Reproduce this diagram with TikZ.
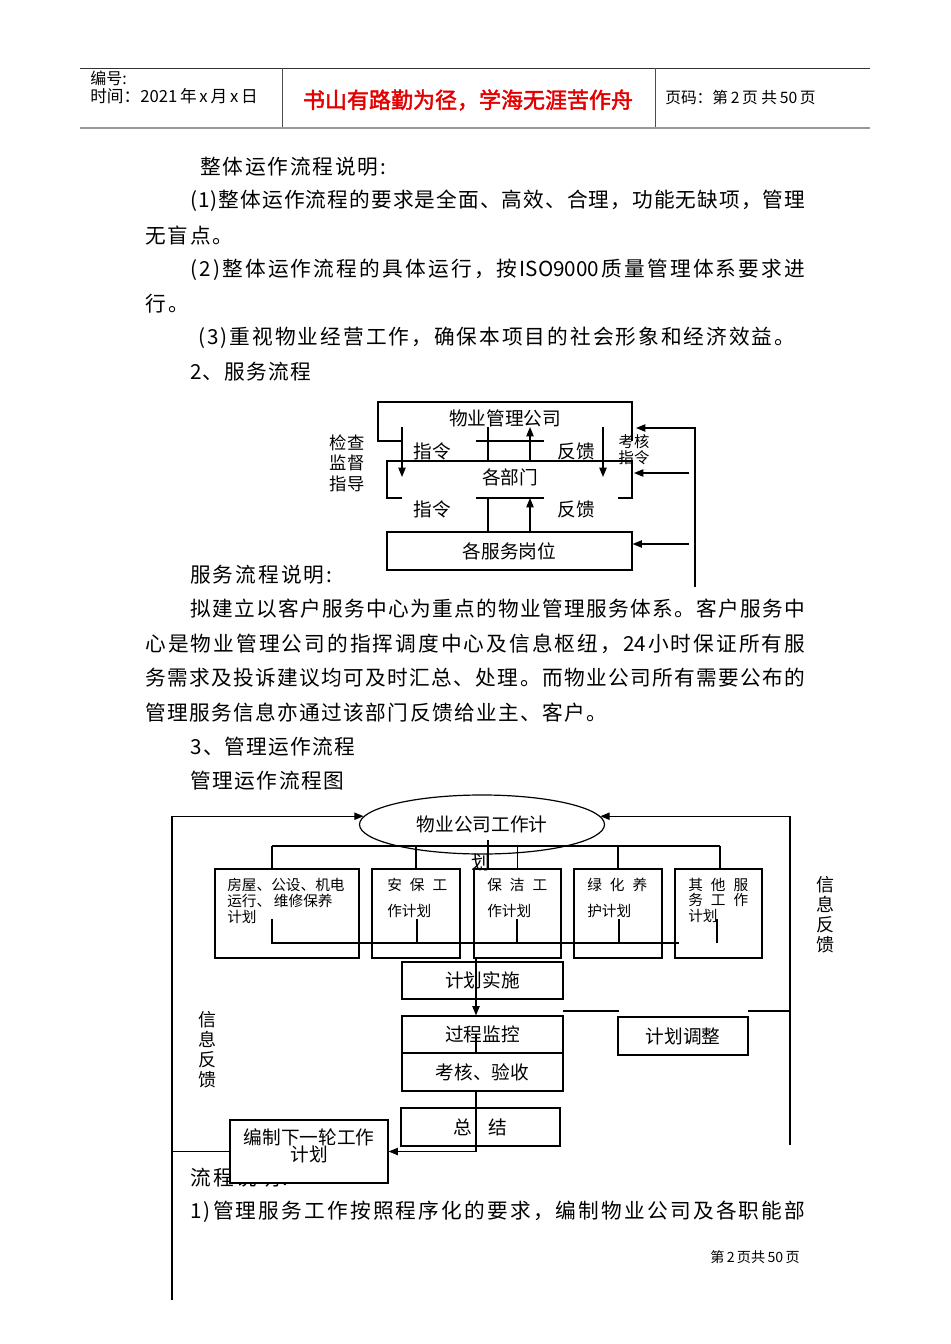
\documentclass[tikz,border=0pt]{standalone}
\usepackage{fontspec}
\setmainfont{Noto Sans CJK SC}
\newfontfamily\hdbold[FakeBold=2]{Noto Sans CJK SC}
\usetikzlibrary{arrows.meta,shapes.geometric}
\definecolor{hdred}{RGB}{228,0,0}
\newdimen\pxu \pxu=0.75pt
\newcommand\bodyf{\fontsize{15.5pt}{18pt}\selectfont}
\newcommand\dgf{\fontsize{14pt}{17pt}\selectfont}
\newcommand\smf{\fontsize{11pt}{12.5pt}\selectfont}
\newcommand\isoN{ISO9000}
\newcommand\tfN{24}
\makeatletter
\def\jl#1#2{\hbox to #1\pxu{\jl@a#2\relax}}
\def\jl@a#1{#1\jl@b}
\def\jl@b#1{\ifx\relax#1\else\hskip0pt plus1fil #1\expandafter\jl@b\fi}
\makeatother
\begin{document}
\begin{tikzpicture}[x=0.75pt,y=-0.75pt,
  ln/.style={line width=0.9pt},
  arr/.style={line width=0.9pt,-{Triangle[length=7pt,width=5.5pt]}},
  bt/.style={anchor=west,inner sep=0pt,font=\bodyf},
  dg/.style={inner sep=0pt,font=\dgf},
  sm/.style={inner sep=0pt,font=\smf,anchor=west},
  bx/.style 2 args={draw,line width=0.9pt,inner sep=0pt,minimum width=#1*0.75pt,minimum height=#2*0.75pt,font=\dgf}]
\useasboundingbox (0,0) rectangle (950,1344);
\fill[white] (0,0) rectangle (950,1344);

% ---------- header ----------
\draw[line width=0.6pt,black!80] (80,68) -- (870,68);
\draw[line width=2pt,black!40] (80,128) -- (870,128);
\draw[line width=0.6pt,black!70] (282,68) -- (282,127) (655,68) -- (655,127);
\node[inner sep=0pt,anchor=west,font=\fontsize{12pt}{13pt}\selectfont] (hno) at (90,78) {编号:};
\node[inner sep=0pt,anchor=west,font=\fontsize{12.5pt}{13pt}\selectfont] (htime) at (90,96) {时间：2021\,年\,x\,月\,x\,日};
\node[inner sep=0pt,text=hdred,font=\hdbold\fontsize{16.5pt}{18pt}\selectfont] (hmotto) at (468,100) {书山有路勤为径，学海无涯苦作舟};
\node[inner sep=0pt,anchor=west,font=\fontsize{11.8pt}{13pt}\selectfont] (hpage) at (665,98) {页码：第\,2\,页 共\,50\,页};

% ---------- body text ----------
\node[bt] (t1) at (200,167) {\jl{186}{整体运作流程说明:}};
\node[bt] (t2) at (190,201) {\jl{615}{(1)整体运作流程的要求是全面、高效、合理，功能无缺项，管理}};
\node[bt] (t3) at (145,236) {\jl{88}{无盲点。}};
\node[bt] (t4) at (190,270) {\jl{615}{(2)整体运作流程的具体运行，按\isoN 质量管理体系要求进}};
\node[bt] (t5) at (145,304) {\jl{44}{行。}};
\node[bt] (t6) at (198,338) {\jl{597}{(3)重视物业经营工作，确保本项目的社会形象和经济效益。}};
\node[bt] (t7) at (190,372) {\jl{121}{2、服务流程}};
\node[bt] (t8) at (190,575) {\jl{142}{服务流程说明:}};
\node[bt] (t9) at (190,609) {\jl{615}{拟建立以客户服务中心为重点的物业管理服务体系。客户服务中}};
\node[bt] (t10) at (145,644) {\jl{660}{心是物业管理公司的指挥调度中心及信息枢纽，\tfN 小时保证所有服}};
\node[bt] (t11) at (145,678) {\jl{660}{务需求及投诉建议均可及时汇总、处理。而物业公司所有需要公布的}};
\node[bt] (t12) at (145,713) {\jl{462}{管理服务信息亦通过该部门反馈给业主、客户。}};
\node[bt] (t13) at (190,747) {\jl{165}{3、管理运作流程}};
\node[bt] (t14) at (190,781) {\jl{154}{管理运作流程图}};
\node[bt] (t15) at (190,1178) {\jl{98}{流程说明:}};
\node[bt] (t16) at (190,1212) {\jl{615}{1)管理服务工作按照程序化的要求，编制物业公司及各职能部}};
\node[inner sep=0pt,anchor=west,font=\fontsize{10.6pt}{12pt}\selectfont] (foot) at (710,1257) {第\,2\,页共\,50\,页};

% ---------- service flow ----------
\node[dg] (gs) at (505,418) {物业管理公司};
\draw[ln] (402,441) -- (378,441) -- (378,402) -- (632,402) -- (632,441);
\draw[ln] (476,441) -- (544,441);
\node[dg] (bm) at (510,477) {各部门};
\draw[ln] (402,498) -- (387,498) -- (387,461) -- (632,461) -- (632,498) -- (618,498);
\draw[ln] (476,498) -- (544,498);
\node[bx={245}{38}] (gw) at (509.5,551) {各服务岗位};
\node[dg] (z1) at (432,451) {指令};
\node[dg] (f1) at (576,451) {反馈};
\node[dg] (z2) at (432,509) {指令};
\node[dg] (f2) at (576,509) {反馈};
\node[inner sep=0pt,align=center,font=\fontsize{13pt}{15.4pt}\selectfont] (jc) at (347,463) {检查\\监督\\指导};
\node[inner sep=0pt,align=center,font=\fontsize{11.5pt}{12pt}\selectfont] (kh2) at (634,450) {考核\\指令};
\coordinate (s1) at (402,427); \coordinate (s1e) at (402,477);
\coordinate (s2) at (603,427); \coordinate (s2e) at (603,477);
\coordinate (s3) at (488,427); \coordinate (s3e) at (488,461);
\coordinate (s4) at (530,461); \coordinate (s4e) at (530,427);
\coordinate (s5) at (488,498);
\coordinate (s6) at (530,532); \coordinate (s6e) at (530,498);
\draw[arr] (s1) -- (s1e);
\draw[arr] (s2) -- (s2e);
\draw[ln] (s3) -- (s3e);
\draw[arr] (s4) -- (s4e);
\draw[ln] (s5) -- (gw.north -| s5);
\draw[arr] (s6) -- (s6e);
\coordinate (rv) at (695,587); \coordinate (rt) at (636,428);
\draw[arr] (rv) |- (rt);
\coordinate (ra) at (689,473); \coordinate (rae) at (634,473);
\draw[arr] (ra) -- (rae);
\coordinate (rc) at (689,544);
\draw[arr] (rc) -- (gw.east |- rc);

% ---------- management flow ----------
\node[ellipse,draw,line width=0.9pt,minimum width=245*0.75pt,minimum height=59*0.75pt,inner sep=0pt,font=\dgf] (ell) at (482,824.5) {物业公司工作计};
\node[dg] (hua) at (481,862) {划};
\node[bx={144}{89}] (b1) at (287,913.5) {};
\node[bx={88}{89}] (b2) at (416,913.5) {};
\node[bx={87}{89}] (b3) at (517.5,913.5) {};
\node[bx={88}{89}] (b4) at (618,913.5) {};
\node[bx={87}{89}] (b5) at (718.5,913.5) {};
\node[sm] (b1a) at (227,885) {房屋、公设、机电};
\node[sm] (b1b) at (227,901) {运行、\hspace{2pt}维修保养};
\node[sm] (b1c) at (227,917) {计划};
\node[sm] (b2a) at (387,885) {安\hspace{6pt}保\hspace{6pt}工};
\node[sm] (b2b) at (387,911) {作计划};
\node[sm] (b3a) at (487,885) {保\hspace{6pt}洁\hspace{6pt}工};
\node[sm] (b3b) at (487,911) {作计划};
\node[sm] (b4a) at (587,885) {绿\hspace{6pt}化\hspace{6pt}养};
\node[sm] (b4b) at (587,911) {护计划};
\node[sm] (b5a) at (688,885) {其\hspace{6pt}他\hspace{6pt}服};
\node[sm] (b5b) at (688,900) {务\hspace{6pt}工\hspace{6pt}作};
\node[sm] (b5c) at (688,916) {计划};
\node[bx={161}{37}] (jh) at (482.5,980.5) {计划实施};
\node[bx={161}{37}] (gc) at (482.5,1034.5) {过程监控};
\node[bx={161}{38}] (kh) at (482.5,1072) {考核、验收};
\node[bx={159}{38}] (zj) at (480.5,1127) {总\hspace{12pt}结};
\node[bx={130}{38}] (tz) at (683,1036) {计划调整};
\node[bx={158}{63},fill=white] (bz) at (309,1151.5) {};
\node[dg,align=center,font=\fontsize{14pt}{13pt}\selectfont] (bzt) at (309,1146) {编制下一轮工作\\计划};
\node[inner sep=0pt,align=center,font=\fontsize{13.5pt}{15pt}\selectfont] (xr) at (825,915) {信\\息\\反\\馈};
\node[inner sep=0pt,align=center,font=\fontsize{13.5pt}{15pt}\selectfont] (xl) at (207,1050) {信\\息\\反\\馈};

% bus and drops
\coordinate (bus1) at (272,846); \coordinate (bus5) at (720,846);
\draw[ln] (bus1) -- (bus5);
\draw[ln] (bus1) -- (b1.north -| bus1);
\draw[ln] (b2.north) -- ++(0,-23);
\draw[ln] (b3.north) -- ++(0,-23);
\draw[ln] (b4.north) -- ++(0,-23);
\draw[ln] (bus5) -- (b5.north -| bus5);
\coordinate (hv) at (488,840); \coordinate (hve) at (488,868);
\draw[ln] (hv) -- (hve);
% inner lines in the plan boxes
\coordinate (i1) at (272,919); \coordinate (i1e) at (272,943); \coordinate (ie) at (679,943);
\draw[ln] (i1) -- (i1e) -- (ie);
\coordinate (i2) at (417,919); \draw[ln] (i2) -- (i2 |- ie);
\coordinate (i3) at (517,919); \draw[ln] (i3) -- (i3 |- ie);
\coordinate (i4) at (619,919); \draw[ln] (i4) -- (i4 |- ie);
\coordinate (i5) at (717,919); \draw[ln] (i5) -- (i5 |- ie);
% main chain
\coordinate (c3) at (476,958);
\draw[arr] (c3) -- (gc.north -| c3);
\coordinate (c4) at (476,1034);
\draw[ln] (c4) -- (gc.south -| c4);
\draw[arr] (kh.south -| c3) -- (bz.east -| c3) -- (bz.east);
% adjustment
\coordinate (a1) at (563,1011); \coordinate (a1e) at (619,1011);
\draw[ln] (a1) -- (a1e);
\coordinate (a2) at (748,1011);
% left feedback
\coordinate (lb) at (172,1300);
\draw[ln] (bz.west) -- (bz.west -| lb);
\draw[arr] (lb) -- (ell.176 -| lb) -- (ell.176);
% right feedback
\coordinate (rb) at (790,1145);
\draw[arr] (rb) -- (ell.4 -| rb) -- (ell.4);
\draw[ln] (a2) -- (a2 -| rb);
\end{tikzpicture}
\end{document}
